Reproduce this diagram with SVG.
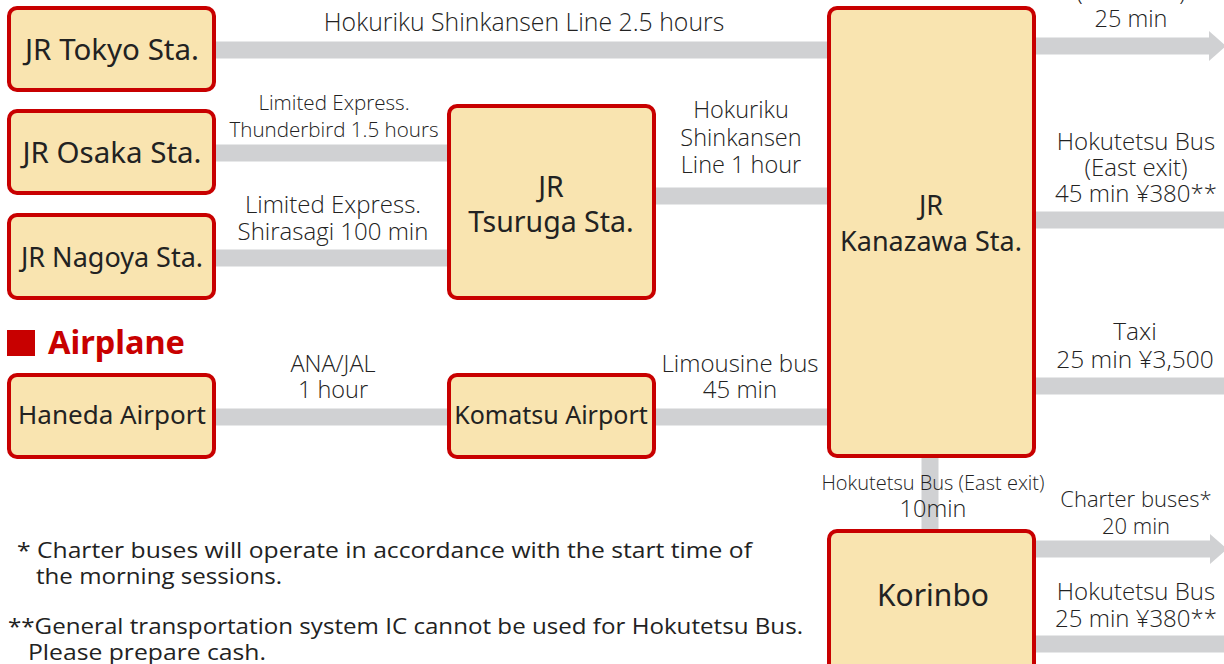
<svg xmlns="http://www.w3.org/2000/svg" width="1224" height="664" viewBox="0 0 1224 664">
<style>
.node rect{fill:#f9e4b0;stroke:#c80000;stroke-width:4}
.nt{font-family:"Noto Sans","Liberation Sans",sans-serif;fill:#222;text-anchor:middle}
.lb{font-family:"Open Sans","Noto Sans","Liberation Sans",sans-serif;font-weight:300;fill:#222;text-anchor:middle;font-size:23.5px}
.fn{font-family:"Open Sans","Noto Sans","Liberation Sans",sans-serif;fill:#222;font-size:22px}
.c{stroke:#d0d1d3;stroke-width:17;fill:none}
</style>
<defs>
<marker id="ah" markerUnits="userSpaceOnUse" markerWidth="17" markerHeight="30" refX="0" refY="15" orient="auto" overflow="visible">
<path d="M0,0 L17,15 L0,30 z" fill="#d0d1d3"/>
</marker>
</defs>
<rect width="1224" height="664" fill="#ffffff"/>
<g id="connectors">
<line class="c" x1="214" y1="50" x2="829" y2="50"/>
<line class="c" x1="214" y1="153" x2="449" y2="153"/>
<line class="c" x1="214" y1="258" x2="449" y2="258"/>
<line class="c" x1="654" y1="196" x2="829" y2="196"/>
<line class="c" x1="214" y1="417" x2="449" y2="417"/>
<line class="c" x1="654" y1="417" x2="829" y2="417"/>
<line class="c" x1="930" y1="456" x2="930" y2="531"/>
<line class="c" x1="1034" y1="46" x2="1209" y2="46" marker-end="url(#ah)"/>
<line class="c" x1="1034" y1="220" x2="1224" y2="220"/>
<line class="c" x1="1034" y1="386" x2="1224" y2="386"/>
<line class="c" x1="1034" y1="549" x2="1210" y2="549" marker-end="url(#ah)"/>
<line class="c" x1="1034" y1="644" x2="1224" y2="644"/>
<text class="lb" x="524" y="31" style="font-size:24.8px">Hokuriku Shinkansen Line 2.5 hours</text>
<text class="lb" x="334" y="110" style="font-size:20.6px">Limited Express.</text>
<text class="lb" x="334" y="137" style="font-size:20.6px">Thunderbird 1.5 hours</text>
<text class="lb" x="333" y="213" style="font-size:24px">Limited Express.</text>
<text class="lb" x="333" y="240" style="font-size:24px">Shirasagi 100 min</text>
<text class="lb" x="741" y="118">Hokuriku</text>
<text class="lb" x="741" y="146">Shinkansen</text>
<text class="lb" x="741" y="173">Line 1 hour</text>
<text class="lb" x="333" y="372">ANA/JAL</text>
<text class="lb" x="333" y="398">1 hour</text>
<text class="lb" x="740" y="372" style="font-size:24px">Limousine bus</text>
<text class="lb" x="740" y="398" style="font-size:24px">45 min</text>
<text class="lb" x="1131" y="0">(West exit)</text>
<text class="lb" x="1131" y="27">25 min</text>
<text class="lb" x="1136" y="150" style="font-size:24px">Hokutetsu Bus</text>
<text class="lb" x="1136" y="176" style="font-size:24px">(East exit)</text>
<text class="lb" x="1136" y="202" style="font-size:24px">45 min ¥380**</text>
<text class="lb" x="1135" y="340" style="font-size:24.5px">Taxi</text>
<text class="lb" x="1135" y="368" style="font-size:24.5px">25 min ¥3,500</text>
<text class="lb" x="933" y="490" style="font-size:20px">Hokutetsu Bus (East exit)</text>
<text class="lb" x="933" y="517">10min</text>
<text class="lb" x="1136" y="507" style="font-size:22px">Charter buses*</text>
<text class="lb" x="1136" y="534" style="font-size:22px">20 min</text>
<text class="lb" x="1136" y="600" style="font-size:24px">Hokutetsu Bus</text>
<text class="lb" x="1136" y="627" style="font-size:24px">25 min ¥380**</text>
</g>
<g id="n-tokyo" class="node"><rect x="9" y="8" width="205" height="82" rx="8"/><text class="nt" x="112" y="60" font-size="29.5">JR Tokyo Sta.</text></g>
<g id="n-osaka" class="node"><rect x="9" y="111" width="205" height="82" rx="8"/><text class="nt" x="112" y="163" font-size="29.5">JR Osaka Sta.</text></g>
<g id="n-nagoya" class="node"><rect x="9" y="215" width="205" height="83" rx="8"/><text class="nt" x="112" y="267" font-size="27">JR Nagoya Sta.</text></g>
<g id="n-haneda" class="node"><rect x="9" y="375" width="205" height="82" rx="8"/><text class="nt" x="112" y="424" font-size="26">Haneda Airport</text></g>
<g id="n-tsuruga" class="node"><rect x="449" y="106" width="205" height="192" rx="8"/><text class="nt" x="551" y="197" font-size="28.5">JR</text><text class="nt" x="551" y="232" font-size="28.5">Tsuruga Sta.</text></g>
<g id="n-komatsu" class="node"><rect x="449" y="375" width="205" height="82" rx="8"/><text class="nt" x="551" y="424" font-size="25">Komatsu Airport</text></g>
<g id="n-kanazawa" class="node"><rect x="829" y="8" width="205" height="448" rx="8"/><text class="nt" x="931" y="215" font-size="27">JR</text><text class="nt" x="931" y="251" font-size="27">Kanazawa Sta.</text></g>
<g id="n-korinbo" class="node"><rect x="829" y="531" width="205" height="150" rx="8"/><text class="nt" x="933" y="606" font-size="30">Korinbo</text></g>
<g id="airplane">
<rect x="7" y="330" width="28" height="26" fill="#c80000"/>
<text x="48" y="354" font-family="'Noto Sans','Liberation Sans',sans-serif" font-weight="bold" font-size="32.5" fill="#c80000">Airplane</text>
</g>
<g id="footnotes">
<text class="fn" x="17" y="558" textLength="735" lengthAdjust="spacingAndGlyphs">* Charter buses will operate in accordance with the start time of</text>
<text class="fn" x="36" y="584" textLength="246" lengthAdjust="spacingAndGlyphs">the morning sessions.</text>
<text class="fn" x="8" y="634" textLength="795" lengthAdjust="spacingAndGlyphs">**General transportation system IC cannot be used for Hokutetsu Bus.</text>
<text class="fn" x="28" y="660" textLength="238" lengthAdjust="spacingAndGlyphs">Please prepare cash.</text>
</g>
</svg>
